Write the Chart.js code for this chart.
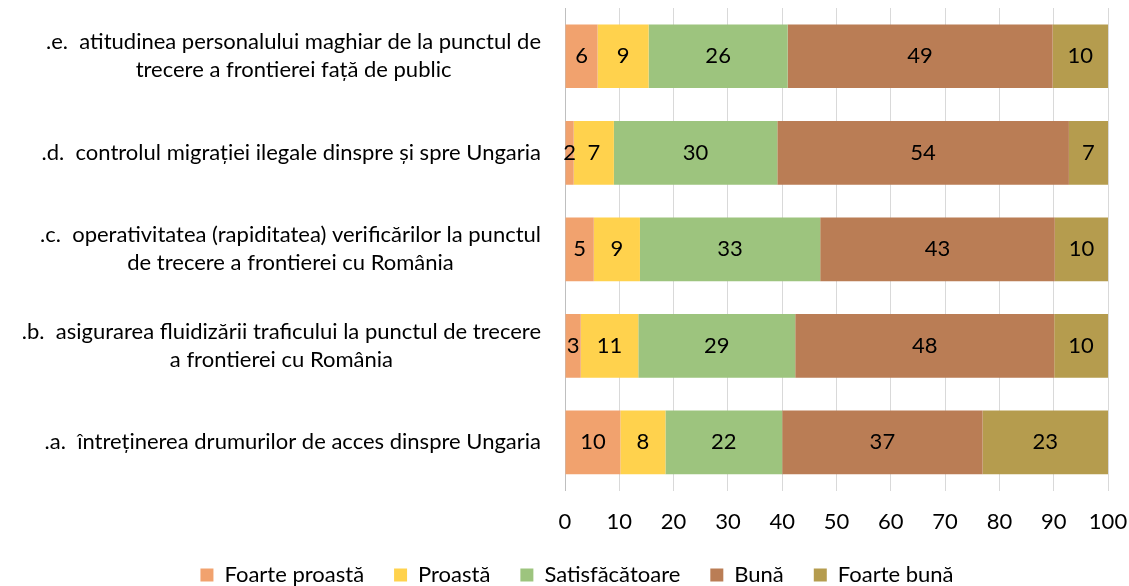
<!DOCTYPE html>
<html>
<head>
<meta charset="utf-8">
<script src="https://cdn.jsdelivr.net/npm/chart.js@4.4.0/dist/chart.umd.min.js"></script>
<style>
  html, body { margin: 0; padding: 0; background: #fff; }
</style>
</head>
<body>
<canvas id="chart" width="1129" height="586"></canvas>
<script>
// categories, top to bottom
const categories = [
    ['.e.  atitudinea personalului maghiar de la punctul de', 'trecere a frontierei față de public'],
    '.d.  controlul migrației ilegale dinspre și spre Ungaria',
    ['.c.  operativitatea (rapiditatea) verificărilor la punctul', 'de trecere a frontierei cu România'],
    ['.b.  asigurarea fluidizării traficului la punctul de trecere', 'a frontierei cu România'],
    '.a.  întreținerea drumurilor de acces dinspre Ungaria'
];

const seriesNames = ['Foarte proastă', 'Proastă', 'Satisfăcătoare', 'Bună', 'Foarte bună'];

// percentages (labels show rounded values)
const foarteProasta  = [6.0, 1.6, 5.3, 2.9, 10.2];
const proasta        = [9.4, 7.4, 8.5, 10.6, 8.3];
const satisfacatoare = [25.6, 30.1, 33.2, 28.9, 21.5];
const buna           = [48.8, 53.7, 43.2, 47.7, 36.9];
const foarteBuna     = [10.2, 7.2, 9.8, 9.9, 23.1];

const seriesColors = ['#F1A26E', '#FFD24D', '#9DC47E', '#BA7D55', '#B59C4E'];

const FONT = 'Lato';
const FONT_SIZE = 22;
Chart.defaults.font.family = FONT;
Chart.defaults.font.size = FONT_SIZE;
Chart.defaults.color = '#000';

// value labels in the middle of every segment
const segmentLabels = {
    id: 'segmentLabels',
    afterDatasetsDraw(chart) {
        const ctx = chart.ctx;
        ctx.save();
        ctx.font = FONT_SIZE + 'px ' + FONT;
        ctx.fillStyle = '#000';
        ctx.textAlign = 'center';
        ctx.textBaseline = 'middle';
        chart.data.datasets.forEach((ds, i) => {
            chart.getDatasetMeta(i).data.forEach((bar, j) => {
                const cx = (bar.x + bar.base) / 2;
                ctx.fillText(Math.round(ds.data[j]), cx, bar.y);
            });
        });
        ctx.restore();
    }
};

// category labels: block right-aligned, lines centred inside the block
const categoryLabels = {
    id: 'categoryLabels',
    afterDraw(chart) {
        const ctx = chart.ctx;
        const yScale = chart.scales.y;
        const right = chart.chartArea.left - 24;
        ctx.save();
        ctx.font = FONT_SIZE + 'px ' + FONT;
        ctx.fillStyle = '#000';
        ctx.textAlign = 'center';
        ctx.textBaseline = 'middle';
        categories.forEach((lab, i) => {
            const lines = Array.isArray(lab) ? lab : [lab];
            const w = Math.max(...lines.map(l => ctx.measureText(l).width));
            const cy = yScale.getPixelForValue(i);
            lines.forEach((l, k) => {
                ctx.fillText(l, right - w / 2, cy + (k - (lines.length - 1) / 2) * 28);
            });
        });
        ctx.restore();
    }
};

// put the legend row where the original has it
const legendShift = {
    id: 'legendShift',
    beforeDraw(chart) {
        const lg = chart.legend;
        lg.left = 0;
        lg.right = 1154;
        lg.top = 534;
        lg.bottom = lg.top + lg.height;
    }
};

new Chart(document.getElementById('chart'), {
    type: 'bar',
    data: {
        labels: categories,
        datasets: [foarteProasta, proasta, satisfacatoare, buna, foarteBuna].map((d, i) => ({
            label: seriesNames[i],
            data: d,
            backgroundColor: seriesColors[i],
            borderWidth: 0,
            barPercentage: 0.66,
            categoryPercentage: 1
        }))
    },
    options: {
        indexAxis: 'y',
        responsive: false,
        animation: false,
        layout: { padding: { top: 8, right: 21, left: 0, bottom: -29 } },
        scales: {
            x: {
                stacked: true,
                min: 0,
                max: 100,
                ticks: { stepSize: 10, padding: 18, color: '#000' },
                grid: {
                    drawTicks: false,
                    color: ctx => ctx.tick && ctx.tick.value === 0 ? '#bfbfbf' : '#d9d9d9'
                },
                border: { display: false },
                afterFit(scale) { scale.paddingRight = 0; }
            },
            y: {
                stacked: true,
                ticks: { display: false },
                grid: { display: false },
                border: { display: false },
                afterFit(scale) { scale.width = 565; }
            }
        },
        plugins: {
            legend: {
                position: 'bottom',
                labels: { boxWidth: 13, boxHeight: 13, padding: 30, color: '#000' }
            },
            tooltip: { enabled: false }
        }
    },
    plugins: [segmentLabels, categoryLabels, legendShift]
});
</script>
</body>
</html>
